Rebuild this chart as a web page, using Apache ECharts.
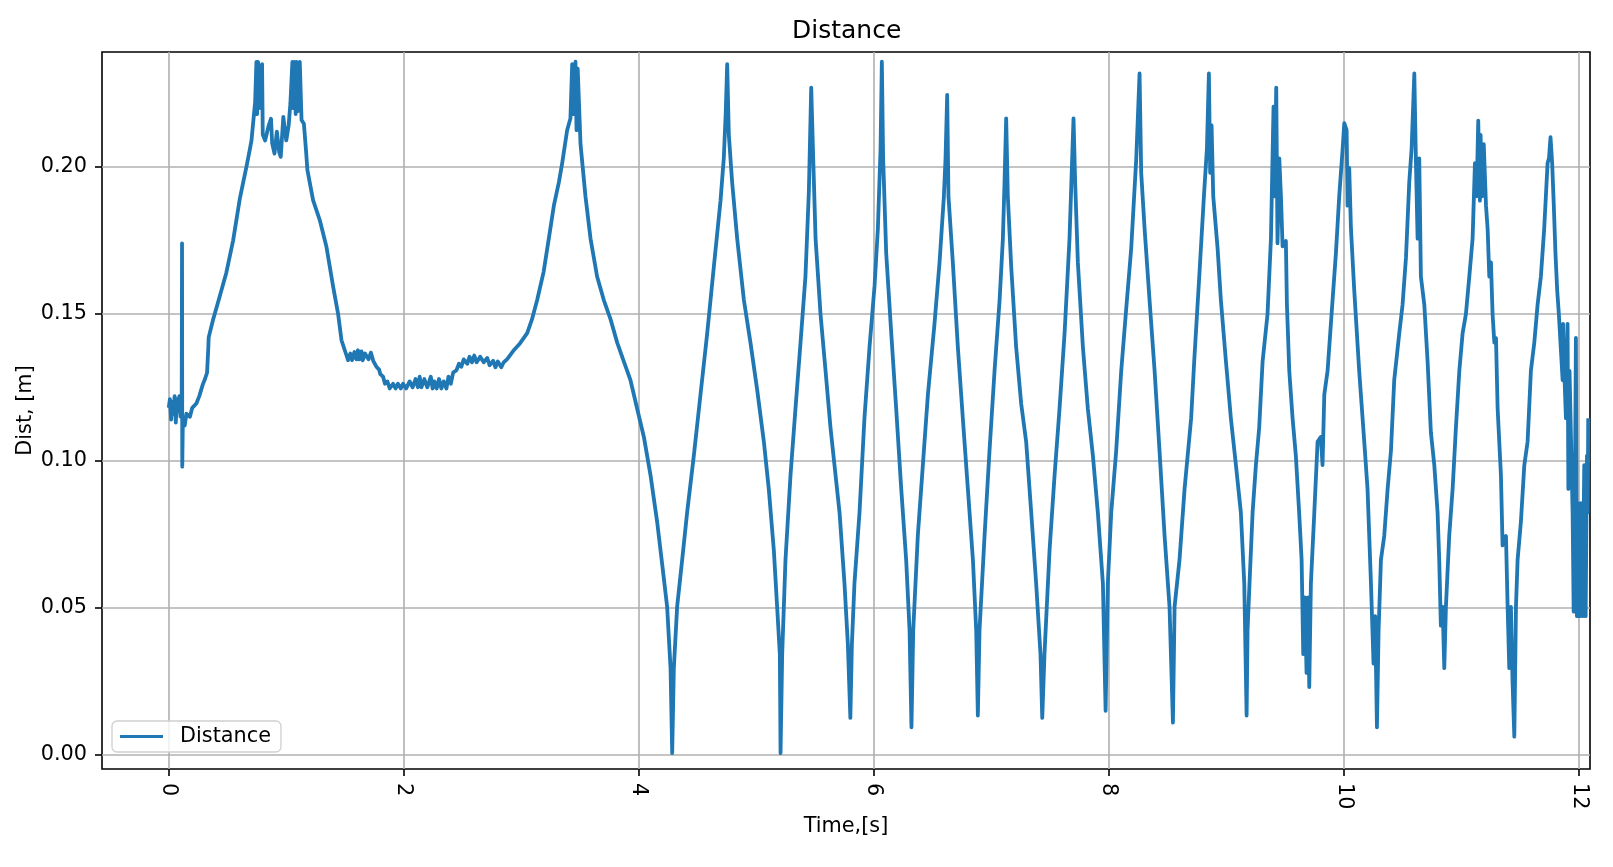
<!DOCTYPE html>
<html>
<head>
<meta charset="utf-8">
<title>Distance</title>
<script src="https://cdn.jsdelivr.net/npm/echarts@6/dist/echarts.min.js"></script>
<style>
  html, body { margin: 0; padding: 0; background: #fff; }
  #chart { width: 1613px; height: 867px; }
</style>
</head>
<body>
<div id="chart"></div>
<script>
// ---- data ----
const chartTitle = 'Distance';
const seriesName = 'Distance';
const xAxisName = 'Time,[s]';
const yAxisName = 'Dist, [m]';
const xTicks = [0, 2, 4, 6, 8, 10, 12];
const yTicks = [0, 0.05, 0.10, 0.15, 0.20];
const xRange = [-0.568, 12.094];
const yRange = [-0.0049, 0.2391];

// [time s, distance m]
const distanceSamples = [
  [0.000,0.118],[0.010,0.121],[0.020,0.114],[0.030,0.120],[0.040,0.116],[0.050,0.122],[0.060,0.113],[0.070,0.121],
  [0.080,0.117],[0.090,0.122],[0.100,0.115],[0.110,0.118],[0.113,0.174],[0.115,0.098],[0.120,0.114],[0.136,0.112],
  [0.150,0.116],[0.180,0.115],[0.200,0.118],[0.235,0.1195],[0.260,0.122],[0.290,0.126],[0.310,0.128],[0.326,0.130],
  [0.336,0.138],[0.340,0.142],[0.377,0.148],[0.434,0.156],[0.490,0.164],[0.548,0.175],[0.604,0.189],[0.640,0.196],
  [0.661,0.200],[0.690,0.206],[0.704,0.209],[0.723,0.217],[0.735,0.222],[0.746,0.2357],[0.752,0.218],[0.760,0.2357],
  [0.770,0.220],[0.780,0.230],[0.794,0.235],[0.800,0.211],[0.820,0.209],[0.850,0.214],[0.870,0.2164],[0.880,0.208],
  [0.900,0.2045],[0.920,0.212],[0.940,0.205],[0.953,0.2034],[0.975,0.217],[1.000,0.209],[1.020,0.214],[1.035,0.2215],
  [1.052,0.2357],[1.060,0.220],[1.070,0.2357],[1.080,0.218],[1.087,0.2357],[1.100,0.219],[1.115,0.2357],[1.130,0.216],
  [1.150,0.2147],[1.170,0.2045],[1.180,0.1989],[1.228,0.1887],[1.285,0.1819],[1.342,0.1728],[1.399,0.1592],[1.441,0.150],
  [1.470,0.141],[1.498,0.1376],[1.526,0.1342],[1.545,0.1365],[1.560,0.1342],[1.580,0.1370],[1.597,0.1345],[1.610,0.1376],
  [1.620,0.1345],[1.640,0.1372],[1.650,0.1342],[1.670,0.1365],[1.700,0.1345],[1.720,0.1368],[1.740,0.1340],[1.767,0.132],
  [1.790,0.1310],[1.800,0.1295],[1.824,0.1286],[1.840,0.1262],[1.860,0.1270],[1.880,0.1246],[1.909,0.1262],[1.930,0.1246],
  [1.950,0.1262],[1.975,0.1246],[1.994,0.1262],[2.020,0.1246],[2.050,0.1270],[2.075,0.1250],[2.100,0.1278],[2.120,0.1250],
  [2.135,0.1286],[2.150,0.1250],[2.175,0.1278],[2.200,0.1250],[2.230,0.1286],[2.245,0.1246],[2.260,0.1270],[2.280,0.1246],
  [2.300,0.1278],[2.320,0.1246],[2.340,0.1270],[2.363,0.1246],[2.380,0.1286],[2.400,0.1262],[2.420,0.1300],[2.448,0.1308],
  [2.470,0.1330],[2.490,0.1320],[2.510,0.1345],[2.540,0.1330],[2.560,0.1354],[2.580,0.1335],[2.600,0.1358],[2.620,0.1335],
  [2.650,0.1354],[2.680,0.1335],[2.710,0.1350],[2.730,0.1325],[2.760,0.1340],[2.780,0.1318],[2.800,0.1338],[2.830,0.1318],
  [2.850,0.1335],[2.880,0.1346],[2.940,0.1378],[2.990,0.140],[3.050,0.1434],[3.090,0.148],
  [3.135,0.1547],[3.190,0.1643],[3.234,0.1756],[3.277,0.1868],[3.320,0.1948],[3.348,0.2013],[3.390,0.2125],[3.418,0.2165],
  [3.433,0.235],[3.445,0.218],[3.461,0.2358],[3.470,0.2125],[3.480,0.2334],[3.504,0.2077],[3.546,0.190],[3.589,0.1756],
  [3.645,0.1627],[3.702,0.1547],[3.759,0.1482],[3.816,0.1402],[3.872,0.1338],[3.929,0.1274],[3.986,0.1177],[4.043,0.1081],
  [4.099,0.0952],[4.156,0.0792],[4.199,0.0647],[4.241,0.0503],[4.270,0.0294],[4.284,0.0005],[4.298,0.0294],[4.326,0.0503],
  [4.369,0.0663],[4.411,0.0824],[4.468,0.1017],[4.525,0.1226],[4.582,0.1434],[4.638,0.1659],[4.695,0.1884],[4.723,0.2029],
  [4.740,0.2189],[4.752,0.235],[4.766,0.2109],[4.794,0.1948],[4.837,0.1756],[4.894,0.1547],[4.950,0.1402],[5.007,0.1242],
  [5.064,0.1065],[5.106,0.0904],[5.149,0.0695],[5.177,0.0503],[5.200,0.0342],[5.206,0.0005],[5.220,0.0342],[5.248,0.0663],
  [5.291,0.0952],[5.333,0.1177],[5.376,0.1402],[5.418,0.1627],[5.447,0.1916],[5.467,0.2270],[5.484,0.2029],[5.504,0.1756],
  [5.546,0.150],[5.589,0.1306],[5.631,0.1113],[5.665,0.0985],[5.708,0.0824],[5.750,0.0583],[5.779,0.0374],[5.800,0.0125],
  [5.813,0.0374],[5.835,0.0583],[5.878,0.0824],[5.920,0.1145],[5.963,0.1386],[6.006,0.1595],[6.034,0.1788],[6.057,0.2061],
  [6.068,0.2358],[6.079,0.2029],[6.105,0.1707],[6.148,0.1434],[6.190,0.1177],[6.233,0.0904],[6.275,0.0663],[6.304,0.0422],
  [6.320,0.0093],[6.335,0.0422],[6.374,0.0744],[6.417,0.0985],[6.460,0.1225],[6.516,0.1466],[6.559,0.1675],[6.596,0.190],
  [6.610,0.2029],[6.624,0.2245],[6.635,0.190],[6.672,0.1675],[6.715,0.1386],[6.757,0.1145],[6.800,0.0904],[6.843,0.0663],
  [6.871,0.0422],[6.885,0.0133],[6.899,0.0422],[6.942,0.0744],[6.984,0.1033],[7.027,0.1306],[7.070,0.1547],[7.098,0.1756],
  [7.112,0.1948],[7.126,0.2165],[7.140,0.190],[7.169,0.1659],[7.211,0.1386],[7.254,0.1193],[7.296,0.1065],[7.339,0.0824],
  [7.381,0.0583],[7.418,0.0342],[7.433,0.0125],[7.452,0.0342],[7.495,0.0695],[7.538,0.0952],[7.580,0.1177],[7.623,0.1434],
  [7.665,0.1756],[7.685,0.1997],[7.699,0.2165],[7.713,0.1948],[7.736,0.1675],[7.779,0.1386],[7.821,0.1177],[7.864,0.1017],
  [7.906,0.0824],[7.949,0.0583],[7.972,0.0149],[7.991,0.0583],[8.020,0.0824],[8.062,0.1033],[8.105,0.1306],[8.147,0.1515],
  [8.190,0.1723],[8.233,0.2029],[8.261,0.2318],[8.275,0.1980],[8.304,0.1788],[8.346,0.1547],[8.389,0.1306],[8.431,0.1033],
  [8.474,0.0744],[8.516,0.0503],[8.545,0.0109],[8.559,0.0503],[8.601,0.0663],[8.644,0.0904],[8.700,0.1145],[8.726,0.1338],
  [8.769,0.1627],[8.811,0.1916],[8.834,0.2061],[8.851,0.2318],[8.862,0.198],[8.874,0.2141],[8.888,0.190],[8.925,0.1723],
  [8.953,0.1547],[8.996,0.1338],[9.038,0.1145],[9.081,0.0985],[9.123,0.0824],[9.152,0.0583],[9.172,0.0133],[9.180,0.0422],
  [9.200,0.0615],[9.223,0.0824],[9.251,0.0985],[9.279,0.1113],[9.308,0.1338],[9.350,0.1499],[9.379,0.1756],[9.401,0.2205],
  [9.410,0.190],[9.424,0.2270],[9.435,0.174],[9.450,0.2029],[9.464,0.190],[9.478,0.1730],[9.506,0.1748],[9.515,0.1531],
  [9.535,0.1306],[9.563,0.1145],[9.591,0.1017],[9.619,0.0824],[9.640,0.0663],[9.654,0.0342],[9.668,0.0535],[9.682,0.0278],
  [9.696,0.0535],[9.705,0.0230],[9.719,0.0583],[9.748,0.0824],[9.776,0.1065],[9.804,0.1081],[9.818,0.0985],[9.833,0.1225],
  [9.861,0.1306],[9.889,0.1466],[9.932,0.1707],[9.960,0.190],[9.989,0.2061],[10.003,0.2149],[10.023,0.2125],[10.031,0.1868],
  [10.045,0.1997],[10.060,0.1788],[10.088,0.1579],[10.130,0.1306],[10.173,0.1065],[10.201,0.0904],[10.230,0.0583],[10.252,0.0310],
  [10.266,0.0471],[10.281,0.0093],[10.295,0.0422],[10.315,0.0663],[10.343,0.0744],[10.372,0.0904],[10.400,0.1033],[10.428,0.1274],
  [10.471,0.1434],[10.499,0.1531],[10.528,0.1691],[10.556,0.1948],[10.576,0.2061],[10.599,0.2318],[10.613,0.2013],[10.627,0.1756],
  [10.641,0.2029],[10.655,0.1627],[10.684,0.1531],[10.712,0.1338],[10.740,0.1097],[10.769,0.0985],[10.797,0.0824],[10.811,0.0663],
  [10.825,0.0439],[10.840,0.0503],[10.854,0.0294],[10.868,0.0503],[10.896,0.0744],[10.925,0.0904],[10.953,0.1113],[10.982,0.1306],
  [11.010,0.1434],[11.038,0.1499],[11.067,0.1627],[11.095,0.1756],[11.115,0.2013],[11.129,0.190],[11.143,0.2157],[11.157,0.1885],
  [11.163,0.2109],[11.177,0.190],[11.190,0.2077],[11.209,0.1868],[11.223,0.1788],[11.237,0.1627],[11.251,0.1675],[11.265,0.1499],
  [11.280,0.1402],[11.294,0.1418],[11.308,0.1177],[11.336,0.0952],[11.350,0.0712],[11.379,0.0744],[11.393,0.0503],[11.407,0.0294],
  [11.421,0.0503],[11.435,0.0246],[11.450,0.0061],[11.464,0.0503],[11.478,0.0663],[11.506,0.0792],[11.535,0.0985],[11.563,0.1065],
  [11.591,0.1306],[11.620,0.1402],[11.648,0.1531],[11.676,0.1627],[11.704,0.1788],[11.733,0.2013],[11.745,0.2029],[11.758,0.2101],
  [11.772,0.2013],[11.786,0.1868],[11.800,0.1707],[11.815,0.1579],[11.829,0.1499],[11.861,0.1274],[11.865,0.1466],[11.875,0.1306],
  [11.889,0.1145],[11.903,0.1466],[11.910,0.0904],[11.920,0.1306],[11.946,0.0824],[11.955,0.0487],[11.965,0.0856],[11.974,0.1418],
  [11.983,0.0471],[11.994,0.0856],[12.006,0.0471],[12.017,0.0856],[12.031,0.0471],[12.045,0.0985],[12.057,0.0471],[12.068,0.1017],
  [12.074,0.0824],[12.079,0.1145]
];

// ---- styling ----
const FONT = 'DejaVu Sans';
const BLUE = '#1f77b4';
const GRID = '#b0b0b0';

const chart = echarts.init(document.getElementById('chart'), null, { renderer: 'canvas' });

chart.setOption({
  animation: false,
  backgroundColor: '#ffffff',
  textStyle: { fontFamily: FONT, color: '#000' },
  title: {
    text: chartTitle,
    left: 792,
    top: 19,
    padding: 0,
    textStyle: { fontFamily: FONT, fontSize: 25, fontWeight: 'normal', color: '#000' }
  },
  legend: {
    data: [seriesName],
    left: 112,
    top: 721,
    icon: 'rect',
    itemWidth: 43,
    itemHeight: 3,
    padding: [5, 10, 5, 8],
    borderColor: '#d0d0d0',
    borderWidth: 1.3,
    borderRadius: 5,
    backgroundColor: 'rgba(255,255,255,0.8)',
    textStyle: { fontFamily: FONT, fontSize: 20.8, color: '#000', padding: [0, 0, 0, 12] }
  },
  grid: {
    left: 102, top: 52, width: 1488, height: 717,
    show: true, borderColor: '#000', borderWidth: 1.6, backgroundColor: 'transparent',
    containLabel: false
  },
  xAxis: {
    type: 'value',
    min: xRange[0], max: xRange[1],
    name: xAxisName,
    nameLocation: 'middle',
    nameGap: 47,
    nameMoveOverlap: false,
    nameTextStyle: { fontFamily: FONT, fontSize: 20.8, color: '#000' },
    axisLine: { show: false, onZero: false },
    axisTick: { show: true, length: 7, lineStyle: { color: '#000', width: 1.6 }, customValues: xTicks },
    axisLabel: {
      customValues: xTicks, rotate: -90, margin: 14,
      fontFamily: FONT, fontSize: 20.8, color: '#000',
      formatter: v => String(v)
    },
    splitLine: { show: true, lineStyle: { color: GRID, width: 1.6 } }
  },
  yAxis: {
    type: 'value',
    min: yRange[0], max: yRange[1],
    name: yAxisName,
    nameLocation: 'middle',
    nameGap: 66,
    nameRotate: 90,
    nameMoveOverlap: false,
    nameTextStyle: { fontFamily: FONT, fontSize: 20.8, color: '#000' },
    axisLine: { show: false, onZero: false },
    axisTick: { show: true, length: 7, lineStyle: { color: '#000', width: 1.6 }, customValues: yTicks },
    axisLabel: {
      customValues: yTicks, margin: 15,
      fontFamily: FONT, fontSize: 20.8, color: '#000',
      formatter: v => Number(v).toFixed(2)
    },
    splitLine: { show: true, lineStyle: { color: GRID, width: 1.6 } }
  },
  series: [{
    name: seriesName,
    type: 'line',
    data: distanceSamples,
    symbol: 'none',
    showSymbol: false,
    clip: true,
    lineStyle: { color: BLUE, width: 3.8, join: 'round' },
    itemStyle: { color: BLUE },
    emphasis: { disabled: true }
  }]
});
</script>
</body>
</html>
